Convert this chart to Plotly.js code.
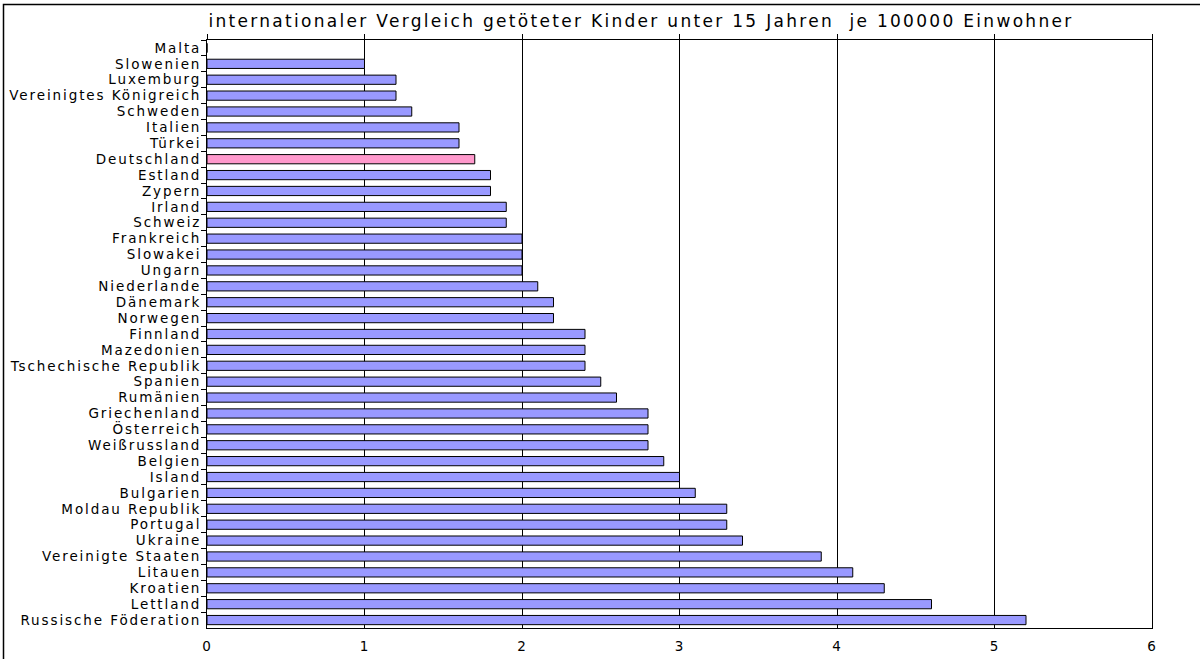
<!DOCTYPE html>
<html><head><meta charset="utf-8">
<script src="https://cdn.plot.ly/plotly-3.0.1.min.js"></script>
<style>
html,body{margin:0;padding:0;background:#fff}#chart{width:1200px;height:659px}
#chart .ytick text{letter-spacing:1.9px}
#chart .xtick text{letter-spacing:1px}
#chart .gtitle{letter-spacing:2.3px}
</style>
</head><body><div id="chart"></div>
<script>
const countries = ["Malta","Slowenien","Luxemburg","Vereinigtes Königreich","Schweden","Italien","Türkei","Deutschland","Estland","Zypern","Irland","Schweiz","Frankreich","Slowakei","Ungarn","Niederlande","Dänemark","Norwegen","Finnland","Mazedonien","Tschechische Republik","Spanien","Rumänien","Griechenland","Österreich","Weißrussland","Belgien","Island","Bulgarien","Moldau Republik","Portugal","Ukraine","Vereinigte Staaten","Litauen","Kroatien","Lettland","Russische Föderation"];
const values = [0,1.0,1.2,1.2,1.3,1.6,1.6,1.7,1.8,1.8,1.9,1.9,2.0,2.0,2.0,2.1,2.2,2.2,2.4,2.4,2.4,2.5,2.6,2.8,2.8,2.8,2.9,3.0,3.1,3.3,3.3,3.4,3.9,4.1,4.3,4.6,5.2];
const xTicks = [0,1,2,3,4,5,6];
const titleText = "internationaler Vergleich getöteter Kinder unter 15 Jahren&nbsp;&nbsp;je 100000 Einwohner";
const highlight = "Deutschland";

const colors = countries.map(c => c === highlight ? "#FF99CC" : "#9999FF");
const W = 1200, H = 659, mL = 207, mR = 48, mT = 40, mB = 31;
const pw = W - mL - mR, ph = H - mT - mB;
const px = v => (v - mL) / pw, py = v => 1 - (v - mT) / ph;

const trace = {
  type: "bar", orientation: "h", x: values, y: countries,
  marker: {color: colors, line: {color: "#000", width: 1}},
  hoverinfo: "x+y"
};
const layout = {
  width: W, height: H,
  margin: {l: mL, r: mR, t: mT, b: mB, pad: 0},
  paper_bgcolor: "#fff", plot_bgcolor: "#fff",
  font: {family: "DejaVu Sans, Verdana, sans-serif", size: 13.5, color: "#000"},
  title: {text: titleText, font: {size: 17, color: "#000"}, x: 641 / W, xref: "container", xanchor: "center", y: 1 - 21.5/H, yref: "container", yanchor: "middle"},
  bargap: 0.42,
  showlegend: false,
  xaxis: {
    range: [0, 6], autorange: false, tickvals: xTicks, ticktext: xTicks.map(String),
    showgrid: true, gridcolor: "#000", gridwidth: 1,
    zeroline: false, showline: true, linecolor: "#000", linewidth: 1, mirror: true,
    ticks: "", ticklabelstandoff: 6, tickfont: {size: 13.5}, fixedrange: true
  },
  xaxis2: {
    overlaying: "x", matches: "x", side: "top", range: [0, 6], tickvals: xTicks,
    showticklabels: false, ticks: "outside", ticklen: 5, tickcolor: "#000",
    showgrid: false, zeroline: false, showline: false
  },
  yaxis: {
    type: "category", autorange: false, range: [countries.length - 0.5, -0.5],
    tickmode: "linear", tick0: 0, dtick: 1,
    showline: true, linecolor: "#000", linewidth: 1, mirror: true,
    ticks: "outside", tickson: "boundaries", ticklen: 5, tickcolor: "#000",
    showgrid: false, zeroline: false, tickfont: {size: 13.5}, ticklabelstandoff: 2
  },
  shapes: [{
    type: "rect", xref: "paper", yref: "paper",
    x0: px(3.5), x1: px(1210), y0: py(670), y1: py(4.5),
    line: {color: "#000", width: 1.5}, layer: "above"
  }]
};
const dummy = {type: "scatter", x: [0], y: [countries[0]], xaxis: "x2", mode: "markers", marker: {opacity: 0}, hoverinfo: "skip"};
Plotly.newPlot("chart", [trace, dummy], layout, {displayModeBar: false, staticPlot: true});
</script></body></html>
